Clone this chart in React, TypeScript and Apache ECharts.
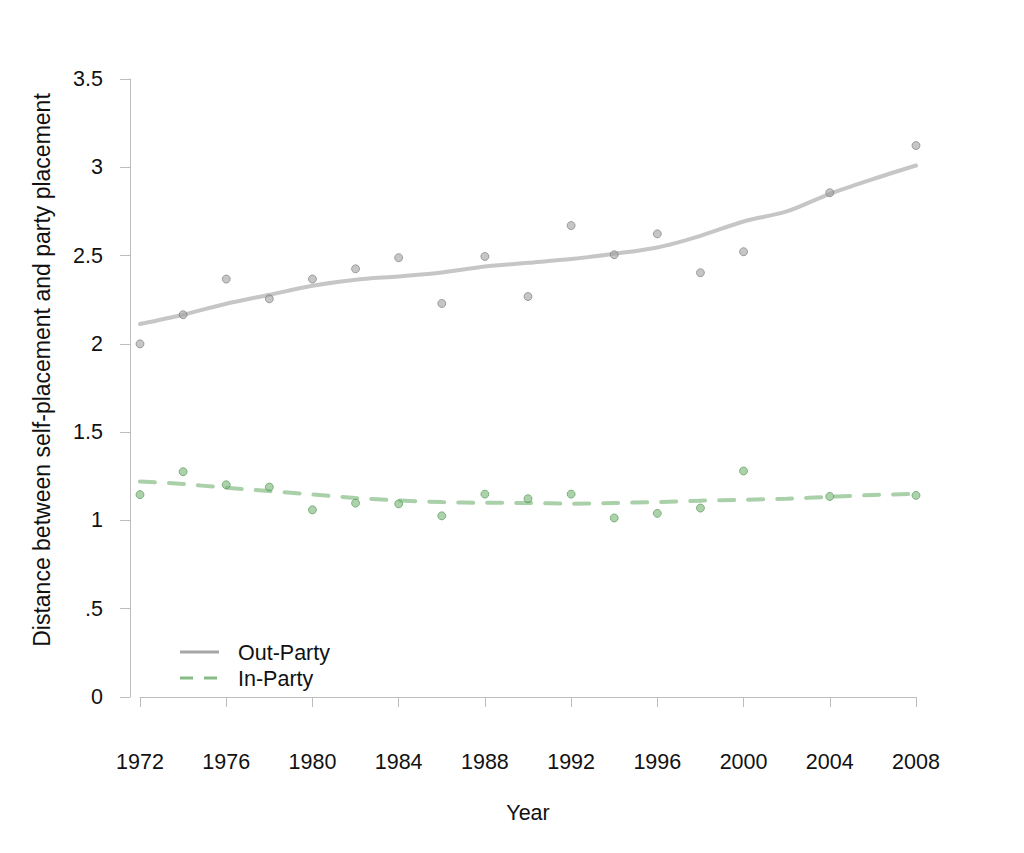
import React, { useEffect, useRef } from "react";
import * as echarts from "echarts";

const outYears = [1972, 1974, 1976, 1978, 1980, 1982, 1984, 1986, 1988, 1990, 1992, 1994, 1996, 1998, 2000, 2004, 2008];
const outPoints = [2.0, 2.165, 2.367, 2.255, 2.367, 2.425, 2.488, 2.229, 2.495, 2.268, 2.67, 2.505, 2.623, 2.403, 2.522, 2.856, 3.123];
const inPoints = [1.146, 1.276, 1.202, 1.189, 1.06, 1.098, 1.094, 1.026, 1.149, 1.123, 1.149, 1.014, 1.04, 1.07, 1.28, 1.136, 1.142];

const fitYears = [1972, 1974, 1976, 1978, 1980, 1982, 1984, 1986, 1988, 1990, 1992, 1994, 1996, 1998, 2000, 2002, 2004, 2006, 2008];
const outFit = [2.112, 2.165, 2.227, 2.278, 2.329, 2.363, 2.382, 2.404, 2.438, 2.459, 2.48, 2.51, 2.546, 2.612, 2.693, 2.75, 2.85, 2.933, 3.01];
const inFit = [1.221, 1.206, 1.185, 1.166, 1.147, 1.127, 1.113, 1.104, 1.1, 1.099, 1.095, 1.099, 1.104, 1.112, 1.117, 1.123, 1.134, 1.144, 1.151];

const yTicks: Record<string, string> = { "0": "0", "0.5": ".5", "1": "1", "1.5": "1.5", "2": "2", "2.5": "2.5", "3": "3", "3.5": "3.5" };

const Y_TITLE = "Distance between self-placement and party placement";
const FONT = "'Liberation Sans', Arial, sans-serif";
const FS = 21.5;

export default function App() {
  const ref = useRef<HTMLDivElement>(null);
  useEffect(() => {
    if (!ref.current) return;
    const chart = echarts.init(ref.current, null, { renderer: "svg" });
    const zip = (xs: number[], ys: number[]) => xs.map((x, i) => [x, ys[i]]);
    chart.setOption({
      animation: false,
      backgroundColor: "#ffffff",
      textStyle: { fontFamily: FONT },
      grid: { left: 140, right: 108, top: 79, bottom: 156 },
      xAxis: {
        type: "value",
        min: 1972,
        max: 2008,
        interval: 4,
        offset: 25,
        name: "Year",
        nameLocation: "middle",
        nameGap: 80,
        nameTextStyle: { fontSize: FS, color: "#111", fontFamily: FONT },
        axisLine: { show: true, lineStyle: { color: "#bdbdbd", width: 1 } },
        axisTick: { show: true, length: 10, lineStyle: { color: "#bdbdbd" } },
        axisLabel: { fontSize: FS, color: "#111", margin: 29, fontFamily: FONT, formatter: (v: number) => String(v) },
        splitLine: { show: false },
      },
      yAxis: {
        type: "value",
        min: 0,
        max: 3.5,
        interval: 0.5,
        offset: 10,
        axisLine: { show: true, lineStyle: { color: "#bdbdbd", width: 1 } },
        axisTick: { show: true, length: 10, lineStyle: { color: "#bdbdbd" } },
        axisLabel: {
          fontSize: FS,
          color: "#111",
          margin: 27,
          fontFamily: FONT,
          formatter: (v: number) => yTicks[String(v)] ?? String(v),
        },
        splitLine: { show: false },
      },
      graphic: [
        {
          type: "text",
          x: 42,
          y: 370,
          rotation: Math.PI / 2,
          style: { text: Y_TITLE, fill: "#111", font: "23px " + FONT, align: "center", verticalAlign: "middle" },
        },
        { type: "line", shape: { x1: 180, y1: 652, x2: 219, y2: 652 }, style: { stroke: "#a6a6a6", lineWidth: 3 } },
        { type: "line", shape: { x1: 180, y1: 678, x2: 219, y2: 678 }, style: { stroke: "#86bb86", lineWidth: 3, lineDash: [13, 11] } },
        { type: "text", x: 238, y: 653, style: { text: "Out-Party", fill: "#111", font: FS + "px " + FONT, verticalAlign: "middle" } },
        { type: "text", x: 238, y: 679, style: { text: "In-Party", fill: "#111", font: FS + "px " + FONT, verticalAlign: "middle" } },
      ],
      series: [
        {
          name: "Out-Party fit",
          type: "line",
          data: zip(fitYears, outFit),
          smooth: 0.3,
          showSymbol: false,
          lineStyle: { color: "#c6c6c6", width: 4, cap: "round" },
          z: 2,
        },
        {
          name: "In-Party fit",
          type: "line",
          data: zip(fitYears, inFit),
          smooth: 0.3,
          showSymbol: false,
          lineStyle: { color: "#aad0aa", width: 4, type: [15, 14], cap: "round" },
          z: 2,
        },
        {
          name: "Out-Party",
          type: "scatter",
          data: zip(outYears, outPoints),
          symbolSize: 8,
          itemStyle: { color: "rgba(160,160,160,0.75)", borderColor: "rgba(115,115,115,0.85)", borderWidth: 0.9 },
          z: 3,
        },
        {
          name: "In-Party",
          type: "scatter",
          data: zip(outYears, inPoints),
          symbolSize: 8,
          itemStyle: { color: "rgba(125,185,125,0.8)", borderColor: "rgba(75,145,75,0.85)", borderWidth: 0.9 },
          z: 3,
        },
      ],
    });
    return () => chart.dispose();
  }, []);
  return <div ref={ref} style={{ position: "absolute", left: 0, top: 0, width: 1024, height: 853 }} />;
}
